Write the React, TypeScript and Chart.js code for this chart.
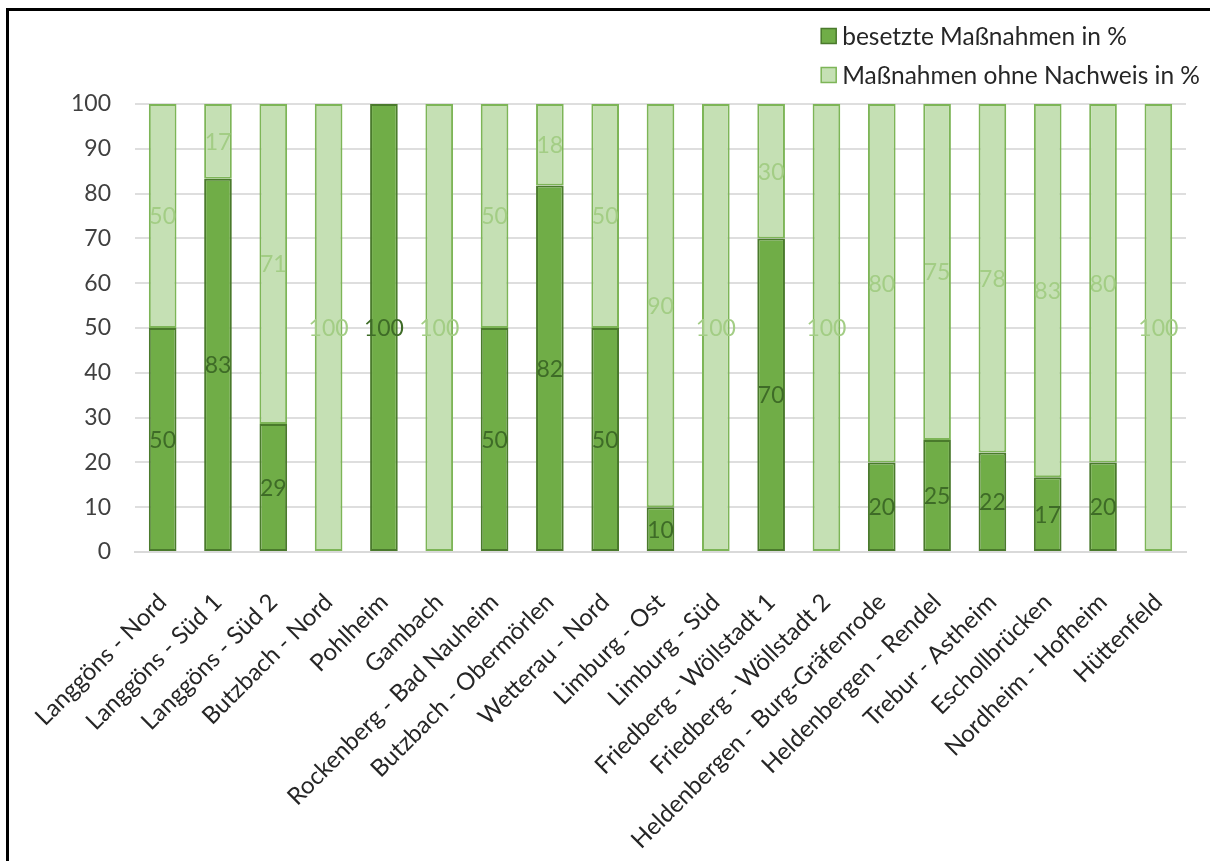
import React, { useEffect, useRef } from "react";
import { Chart, registerables } from "chart.js";

Chart.register(...registerables);

const categories = [
  "Langgöns - Nord",
  "Langgöns - Süd 1",
  "Langgöns - Süd 2",
  "Butzbach - Nord",
  "Pohlheim",
  "Gambach",
  "Rockenberg - Bad Nauheim",
  "Butzbach - Obermörlen",
  "Wetterau - Nord",
  "Limburg - Ost",
  "Limburg - Süd",
  "Friedberg - Wöllstadt 1",
  "Friedberg - Wöllstadt 2",
  "Heldenbergen - Burg-Gräfenrode",
  "Heldenbergen - Rendel",
  "Trebur - Astheim",
  "Eschollbrücken",
  "Nordheim - Hofheim",
  "Hüttenfeld",
];

const besetzt = [50, 83.33, 28.57, 0, 100, 0, 50, 81.82, 50, 10, 0, 70, 0, 20, 25, 22.22, 16.67, 20, 0];
const ohneNachweis = [50, 16.67, 71.43, 100, 0, 100, 50, 18.18, 50, 90, 100, 30, 100, 80, 75, 77.78, 83.33, 80, 100];

const seriesNames = ["besetzte Maßnahmen in %", "Maßnahmen ohne Nachweis in %"];
const yMin = 0;
const yMax = 100;
const yStep = 10;

const FONT = "Lato, 'Open Sans', sans-serif";

const valueLabels = {
  id: "valueLabels",
  afterDatasetsDraw(chart: any) {
    const ctx = chart.ctx;
    ctx.save();
    ctx.font = `23px ${FONT}`;
    ctx.textAlign = "center";
    ctx.textBaseline = "middle";
    chart.data.datasets.forEach((ds: any, di: number) => {
      const meta = chart.getDatasetMeta(di);
      meta.data.forEach((el: any, i: number) => {
        const v = ds.data[i];
        if (!v) return;
        const p = el.getProps(["x", "y", "base"], true);
        ctx.fillStyle = ds.labelColor;
        ctx.fillText(String(Math.round(v)), p.x, (p.y + p.base) / 2 + 1);
      });
    });
    ctx.restore();
  },
};

const stackedLegend = {
  id: "stackedLegend",
  afterDraw(chart: any) {
    const ctx = chart.ctx;
    const box = 15;
    const gap = 6;
    const rowH = 39;
    ctx.save();
    ctx.font = `24.5px ${FONT}`;
    const widths = chart.data.datasets.map((d: any) => ctx.measureText(d.label).width);
    const maxW = Math.max(...widths);
    const x0 = chart.width - 10 - (box + gap + maxW);
    const y0 = 36;
    chart.data.datasets.forEach((ds: any, i: number) => {
      const cy = y0 + i * rowH;
      ctx.fillStyle = ds.backgroundColor;
      ctx.fillRect(x0, cy - box / 2, box, box);
      ctx.strokeStyle = ds.borderColor;
      ctx.lineWidth = 1.5;
      ctx.strokeRect(x0, cy - box / 2, box, box);
      ctx.fillStyle = "#262626";
      ctx.textAlign = "left";
      ctx.textBaseline = "middle";
      ctx.fillText(ds.label, x0 + box + gap, cy + 1);
    });
    ctx.restore();
  },
};

export default function App() {
  const ref = useRef<HTMLCanvasElement | null>(null);

  useEffect(() => {
    if (!ref.current) return;
    Chart.defaults.font.family = FONT;
    const bw = (c: any) => (c.raw ? 2 : 0);
    const chart = new Chart(ref.current, {
      type: "bar",
      data: {
        labels: categories,
        datasets: [
          {
            label: seriesNames[0],
            data: besetzt,
            backgroundColor: "#70AD47",
            borderColor: "#4A7A2C",
            borderWidth: bw,
            borderSkipped: false,
            labelColor: "#3E6B27",
          } as any,
          {
            label: seriesNames[1],
            data: ohneNachweis,
            backgroundColor: "#C5E0B4",
            borderColor: "#7DB557",
            borderWidth: bw,
            borderSkipped: false,
            labelColor: "#A3CD85",
          } as any,
        ],
      },
      options: {
        responsive: false,
        animation: false,
        devicePixelRatio: 1,
        layout: { padding: { left: 20, top: 104, right: 24, bottom: 0 } },
        datasets: { bar: { barPercentage: 0.5, categoryPercentage: 1 } },
        plugins: {
          legend: { display: false },
          tooltip: { enabled: false },
          title: { display: false },
        },
        scales: {
          x: {
            stacked: true,
            grid: { display: false },
            border: { display: true, color: "#D9D9D9", width: 2 },
            ticks: {
              minRotation: 45,
              maxRotation: 45,
              autoSkip: false,
              padding: 28,
              labelOffset: 0,
              color: "#262626",
              font: { size: 24, family: FONT },
            },
            afterFit(scale: any) {
              scale.height = 861 - 552;
            },
          },
          y: {
            stacked: true,
            min: yMin,
            max: yMax,
            grid: { color: "#DEDEDE", lineWidth: 2, drawTicks: false },
            border: { display: false },
            ticks: {
              stepSize: yStep,
              padding: 24,
              color: "#404040",
              font: { size: 23, family: FONT },
            },
            afterFit(scale: any) {
              scale.width = 115;
            },
          },
        },
      },
      plugins: [valueLabels, stackedLegend],
    });
    return () => chart.destroy();
  }, []);

  return (
    <>
      <canvas
        ref={ref}
        width={1210}
        height={861}
        style={{ position: "fixed", left: 0, top: 0, width: 1210, height: 861, background: "#fff" }}
      />
      <div
        style={{
          position: "fixed",
          left: 6,
          top: 8,
          width: 1400,
          height: 1000,
          borderTop: "3px solid #000",
          borderLeft: "3px solid #000",
          pointerEvents: "none",
        }}
      />
    </>
  );
}
